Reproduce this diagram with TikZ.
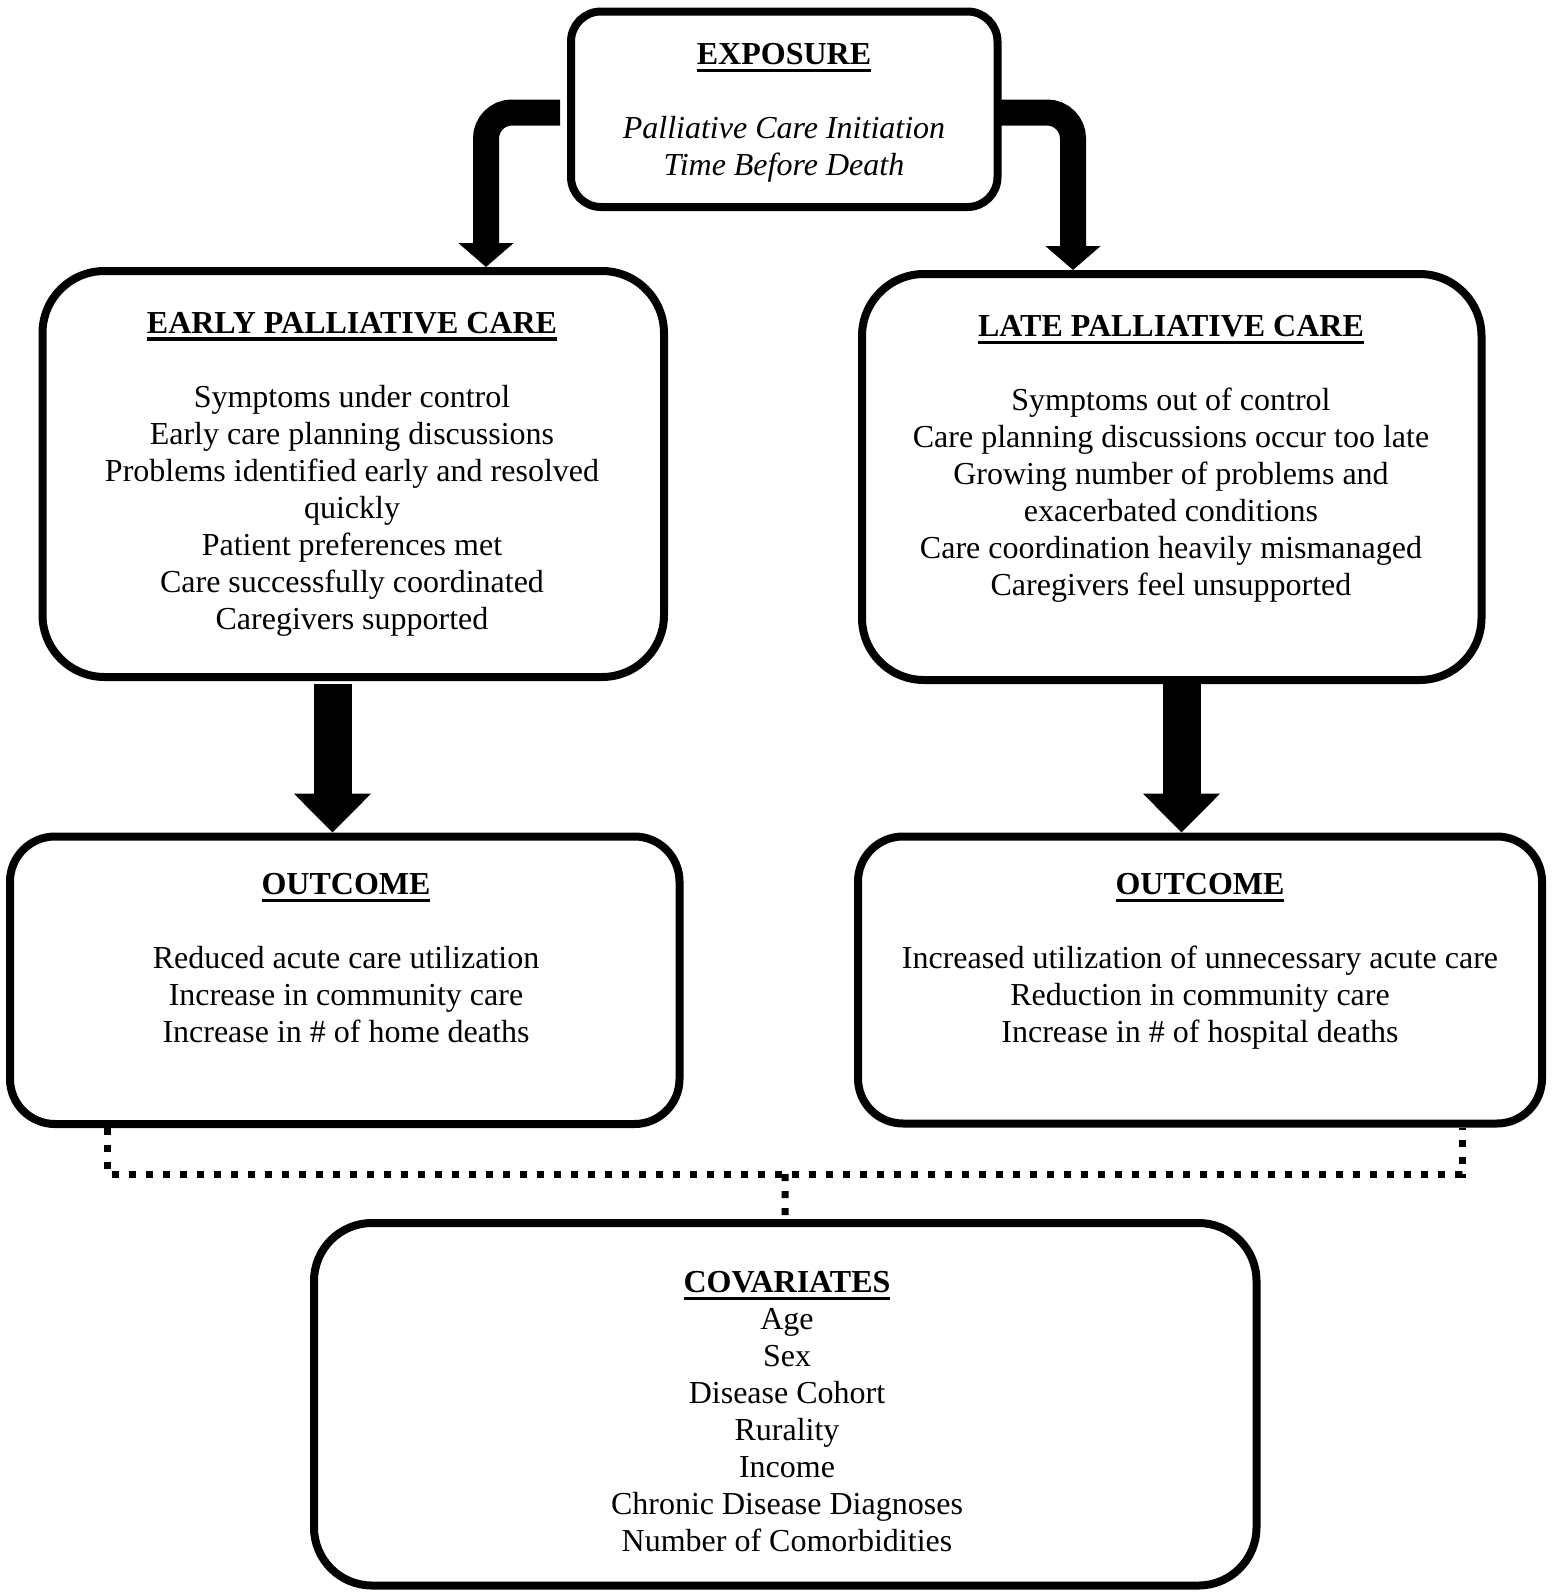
\documentclass[tikz,border=0pt]{standalone}
\usepackage{fontspec}
\setmainfont{Liberation Serif}
\usetikzlibrary{arrows.meta}
\newlength\hdrw
\newcommand\hdr[1]{\settowidth{\hdrw}{\bfseries #1}{\bfseries #1}\hspace{-\hdrw}\rule[-7.4pt]{\hdrw}{3.4pt}}
\newcommand\topstrut{\rule{0pt}{26pt}}
\begin{document}
\begin{tikzpicture}[x=1pt,y=-1pt,
  box/.style={draw, line width=8pt, inner sep=0pt, outer sep=0pt},
  txt/.style={anchor=north, inner sep=0pt, align=center, font=\fontsize{32}{37}\selectfont},
  elbow/.style={line width=26pt, -{Triangle[width=54pt,length=24pt]}},
  down/.style={line width=38pt, -{Triangle[width=75pt,length=39pt]}},
  dots/.style={line width=7pt, dash pattern=on 7pt off 10pt}]
\useasboundingbox[fill=white] (0,0) rectangle (1554,1593);

% boxes
\node[box, rounded corners=30pt, minimum width=426.5pt, minimum height=195.5pt] (exp) at (784.25,109.25) {};
\node[box, rounded corners=62pt, minimum width=621.5pt, minimum height=406pt] (early) at (353.25,474) {};
\node[box, rounded corners=62pt, minimum width=619.5pt, minimum height=406pt] (late) at (1171.75,477) {};
\node[box, rounded corners=45pt, minimum width=669.5pt, minimum height=287.5pt] (outl) at (344.75,980.25) {};
\node[box, rounded corners=45pt, minimum width=684pt, minimum height=287pt] (outr) at (1200,980) {};
\node[box, rounded corners=58pt, minimum width=942.5pt, minimum height=362.5pt] (cov) at (785.25,1404.25) {};

% texts
\node[txt] (expt) at (784,38.5) {\topstrut\hdr{EXPOSURE}\\[37pt]
  {\itshape Palliative Care Initiation}\\
  {\itshape Time Before Death}};
\node[txt] (earlyt) at (352,307) {\topstrut\hdr{EARLY PALLIATIVE CARE}\\[37pt]
  Symptoms under control\\
  Early care planning discussions\\
  Problems identified early and resolved\\
  quickly\\
  Patient preferences met\\
  Care successfully coordinated\\
  Caregivers supported};
\node[txt] (latet) at (1171,310.5) {\topstrut\hdr{LATE PALLIATIVE CARE}\\[37pt]
  Symptoms out of control\\
  Care planning discussions occur too late\\
  Growing number of problems and\\
  exacerbated conditions\\
  Care coordination heavily mismanaged\\
  Caregivers feel unsupported};
\node[txt] (outlt) at (346,868.5) {\topstrut\hdr{OUTCOME}\\[37pt]
  Reduced acute care utilization\\
  Increase in community care\\
  Increase in \# of home deaths};
\node[txt] (outrt) at (1200,868.5) {\topstrut\hdr{OUTCOME}\\[37pt]
  Increased utilization of unnecessary acute care\\
  Reduction in community care\\
  Increase in \# of hospital deaths};
\node[txt] (covt) at (787,1266.5) {\topstrut\hdr{COVARIATES}\\
  Age\\
  Sex\\
  Disease Cohort\\
  Rurality\\
  Income\\
  Chronic Disease Diagnoses\\
  Number of Comorbidities};

% helper coordinates
\coordinate (ls) at (560,112.5);
\coordinate (rs) at (1001,112.5);
\coordinate (lx) at (486,0);
\coordinate (rx) at (1073,0);
\coordinate (dl) at (332.5,0);
\coordinate (dr) at (1181.5,0);
\coordinate (dotl) at (107,0);
\coordinate (dotr) at (1462,0);
\coordinate (dotm) at (785,1174);

% elbow arrows
\draw[elbow, shorten >=4pt] (ls) [rounded corners=26pt] -| (lx |- early.north);
\draw[elbow, shorten >=4pt] (rs) [rounded corners=26pt] -| (rx |- late.north);

% down arrows
\draw[down, shorten <=7pt, shorten >=4pt] (dl |- early.south) -- (dl |- outl.north);
\draw[down, shorten <=4pt, shorten >=4pt] (dr |- late.south) -- (dr |- outr.north);

% dotted connectors
\draw[dots, shorten <=4pt, shorten >=4pt] (dotl |- outl.south) |- (dotm) -| (dotr |- outr.south);
\draw[dots, shorten >=4pt] (dotm) -- (cov.north);
\end{tikzpicture}
\end{document}
